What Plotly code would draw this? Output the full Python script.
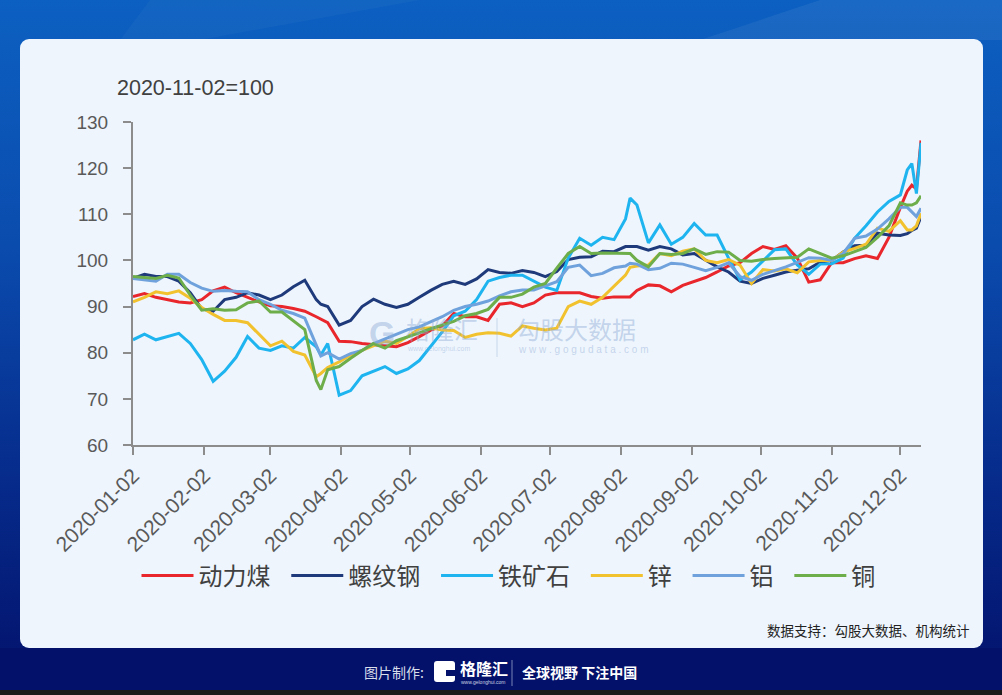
import base64
import plotly.graph_objects as go

dates = [
    "2020-01-02", "2020-01-07", "2020-01-12", "2020-01-17", "2020-01-22", "2020-01-27",
    "2020-02-01", "2020-02-06", "2020-02-11", "2020-02-16", "2020-02-21", "2020-02-26",
    "2020-03-02", "2020-03-07", "2020-03-12", "2020-03-17", "2020-03-22", "2020-03-24",
    "2020-03-27", "2020-04-01", "2020-04-06", "2020-04-11", "2020-04-16", "2020-04-21",
    "2020-04-26", "2020-05-01", "2020-05-06", "2020-05-11", "2020-05-16", "2020-05-21",
    "2020-05-26", "2020-05-31", "2020-06-05", "2020-06-10", "2020-06-15", "2020-06-20",
    "2020-06-25", "2020-06-30", "2020-07-05", "2020-07-10", "2020-07-15", "2020-07-20",
    "2020-07-25", "2020-07-30", "2020-08-04", "2020-08-06", "2020-08-09", "2020-08-14",
    "2020-08-19", "2020-08-24", "2020-08-29", "2020-09-03", "2020-09-08", "2020-09-13",
    "2020-09-18", "2020-09-23", "2020-09-28", "2020-10-03", "2020-10-08", "2020-10-13",
    "2020-10-18", "2020-10-23", "2020-10-28", "2020-11-02", "2020-11-07", "2020-11-12",
    "2020-11-17", "2020-11-22", "2020-11-27", "2020-12-02", "2020-12-05", "2020-12-07",
    "2020-12-09", "2020-12-11",
]

thermal_coal = [
    92.2, 92.8, 92.0, 91.5, 91.0, 90.8, 91.5, 93.4, 94.2, 93.0, 92.0, 91.0,
    90.2, 90.0, 89.6, 89.0, 87.8, 87.3, 86.5, 82.5, 82.4, 82.0, 81.7, 81.5,
    81.3, 82.2, 83.5, 84.9, 85.8, 88.5, 87.8, 87.8, 87.0, 90.5, 90.8, 90.0,
    90.8, 92.5, 93.0, 93.0, 93.0, 92.2, 91.8, 92.1, 92.1, 92.1, 93.5, 94.7,
    94.5, 93.2, 94.6, 95.4, 96.3, 97.5, 98.8, 99.5, 101.5, 103.0, 102.4, 103.2,
    100.5, 95.3, 95.8, 99.5, 99.5, 100.4, 101.0, 100.4, 105.0, 111.5, 115.0, 116.3,
    115.5, 126.0,
]
rebar = [
    96.1, 97.0, 96.5, 96.5, 95.5, 93.0, 89.5, 89.0, 91.5, 92.0, 93.0, 92.5,
    91.5, 92.5, 94.3, 95.7, 91.5, 90.5, 90.0, 86.0, 87.0, 90.0, 91.6, 90.5,
    89.8, 90.5, 92.0, 93.5, 94.8, 95.5, 94.8, 96.0, 98.0, 97.4, 97.2, 97.8,
    97.4, 96.5, 97.6, 100.2, 100.7, 100.8, 102.0, 101.9, 103.0, 103.0, 103.0, 102.2,
    103.0, 102.5, 101.2, 101.5, 100.0, 98.6, 97.5, 95.5, 95.0, 96.1, 96.8, 97.5,
    97.9, 98.2, 99.6, 100.0, 101.8, 103.2, 103.3, 105.9, 105.5, 105.4, 105.8, 106.5,
    107.0, 109.5,
]
iron_ore = [
    82.8, 84.0, 82.8, 83.5, 84.2, 82.0, 78.5, 73.8, 76.0, 79.0, 83.5, 81.0,
    80.5, 81.5, 81.0, 83.3, 81.3, 79.5, 82.0, 70.8, 71.8, 75.0, 76.0, 77.0,
    75.5, 76.5, 78.3, 81.5, 84.5, 88.0, 89.0, 91.5, 95.5, 96.3, 96.8, 96.8,
    95.5, 94.2, 93.5, 100.5, 104.8, 103.3, 105.0, 104.5, 109.0, 113.5, 112.0, 103.8,
    107.7, 103.5, 105.0, 108.0, 105.5, 105.5, 100.5, 95.8, 97.5, 100.0, 102.3, 102.5,
    99.0, 97.0, 99.2, 99.3, 100.5, 104.8, 107.5, 110.5, 112.8, 114.2, 119.6, 121.0,
    114.5, 125.5,
]
zinc = [
    91.0, 92.0, 93.2, 92.8, 93.4, 91.8, 89.8, 88.3, 87.0, 87.0, 86.5, 84.0,
    81.5, 82.5, 80.3, 79.5, 74.8, 75.5, 76.8, 78.0, 79.5, 80.5, 81.5, 82.5,
    82.0, 83.5, 85.2, 85.4, 84.9, 84.8, 83.3, 84.0, 84.3, 84.2, 83.6, 85.8,
    85.3, 84.9, 85.3, 90.0, 91.2, 90.5, 92.0, 94.5, 96.8, 98.5, 98.8, 99.0,
    101.5, 101.0, 102.0, 102.5, 100.0, 99.5, 100.2, 99.0, 95.0, 98.0, 97.7, 98.2,
    97.3, 99.7, 100.0, 100.0, 101.8, 102.6, 103.5, 107.0, 106.3, 108.6, 106.6, 106.6,
    107.5, 110.2,
]
aluminium = [
    96.1, 95.8, 95.5, 97.0, 97.0, 95.2, 94.0, 93.3, 93.5, 93.3, 93.2, 91.5,
    90.5, 89.2, 88.5, 87.5, 81.5, 79.3, 80.0, 78.6, 79.8, 80.5, 82.0, 83.0,
    84.0, 85.0, 85.6, 86.7, 87.8, 89.2, 90.0, 90.5, 91.2, 92.3, 93.2, 93.6,
    93.6, 94.5, 95.4, 98.5, 99.0, 96.7, 97.2, 98.4, 98.8, 99.4, 99.2, 98.0,
    98.3, 99.4, 99.2, 98.5, 97.8, 98.5, 99.5, 96.5, 95.7, 97.0, 97.8, 98.6,
    99.6, 100.6, 100.5, 100.0, 101.5, 104.8, 105.3, 106.8, 109.0, 111.5, 111.5, 110.5,
    109.5, 111.3,
]
copper = [
    96.5, 96.3, 96.1, 96.8, 96.2, 92.5, 89.2, 89.5, 89.2, 89.3, 90.8, 91.2,
    88.8, 88.8, 86.8, 85.0, 74.0, 72.0, 76.3, 77.0, 78.8, 80.5, 82.0, 81.0,
    82.6, 83.4, 84.3, 85.2, 86.0, 86.8, 88.0, 88.5, 89.4, 92.0, 92.0, 92.7,
    94.2, 95.0, 98.3, 101.5, 103.0, 101.5, 101.6, 101.5, 101.5, 101.5, 100.0, 98.6,
    101.5, 101.3, 101.5, 102.5, 101.3, 101.9, 101.8, 100.0, 99.8, 100.2, 100.4, 100.5,
    100.7, 102.5, 101.5, 100.5, 101.0, 101.9, 102.8, 105.0, 107.5, 112.5, 112.0, 112.0,
    112.5, 114.0,
]

series_names = ["动力煤", "螺纹钢", "铁矿石", "锌", "铝", "铜"]
series_values = [thermal_coal, rebar, iron_ore, zinc, aluminium, copper]
series_colors = ["#E8262B", "#1F3A7A", "#1DB4F0", "#F2C12E", "#6FA2DC", "#6DAD4A"]

tick_vals = ["2020-01-02", "2020-02-02", "2020-03-02", "2020-04-02", "2020-05-02", "2020-06-02",
             "2020-07-02", "2020-08-02", "2020-09-02", "2020-10-02", "2020-11-02", "2020-12-02"]

W, H = 1002, 695
L, R, T, B = 133, 81, 122, 250
PW, PH = W - L - R, H - T - B

def px_x(x):
    return (x - L) / PW

def px_y(y):
    return (H - B - y) / PH

svg = f'''<svg xmlns="http://www.w3.org/2000/svg" width="{W}" height="{H}" viewBox="0 0 {W} {H}" preserveAspectRatio="none">
<defs><linearGradient id="g" x1="0" y1="0" x2="0" y2="1">
<stop offset="0" stop-color="#0C60C1"/><stop offset="0.35" stop-color="#0A4CAE"/>
<stop offset="0.7" stop-color="#062A8A"/><stop offset="1" stop-color="#03116A"/></linearGradient></defs>
<rect width="{W}" height="{H}" fill="url(#g)"/>
<polygon points="150,0 420,0 200,40 120,40" fill="#ffffff" fill-opacity="0.03"/>
<polygon points="820,0 1002,0 1002,40 700,40" fill="#ffffff" fill-opacity="0.06"/>
<rect x="0" y="648" width="{W}" height="47" fill="#03116A"/>
<rect x="0" y="690" width="{W}" height="5" fill="#1a1a1a"/>
<rect x="20" y="39" width="963" height="609" rx="9" ry="9" fill="#EEF5FC"/>
<rect x="434" y="661" width="21" height="21" rx="3" ry="3" fill="#FFFFFF"/>
<rect x="446" y="670" width="9" height="6" fill="#03116A"/>
</svg>'''
src = "data:image/svg+xml;base64," + base64.b64encode(svg.encode()).decode()

NB = "\u00a0"
fig = go.Figure()
for name, vals, col in zip(series_names, series_values, series_colors):
    fig.add_trace(go.Scatter(x=dates, y=vals, name=name + NB + NB, mode="lines",
                             line=dict(color=col, width=3)))

fig.add_layout_image(dict(source=src, xref="paper", yref="paper",
                          x=px_x(0), y=px_y(0), sizex=W / PW, sizey=H / PH,
                          xanchor="left", yanchor="top", sizing="stretch", layer="below"))

cjk = "Noto Sans CJK SC"
ann = []

def add_text(text, x, y, xanchor, size, color, family=cjk):
    ann.append(dict(text=text, x=px_x(x), y=px_y(y), xref="paper", yref="paper", showarrow=False,
                    xanchor=xanchor, yanchor="middle", font=dict(family=family, size=size, color=color)))

add_text("2020-11-02=100", 115, 88, "left", 21.5, "#404040", "Liberation Sans, Arial")
# watermark
wmc = "rgba(140,170,215,0.45)"
add_text("<b>G</b>", 382, 333, "center", 34, wmc, "Liberation Sans")
add_text("格隆汇", 404, 328, "left", 24, wmc)
add_text("www.gelonghui.com", 405, 349, "left", 7, wmc, "Liberation Sans")
add_text("勾股大数据", 514, 328, "left", 24, wmc)
add_text("w w w . g o g u d a t a . c o m", 516, 349, "left", 10, wmc, "Liberation Sans")
# source
add_text("数据支持：勾股大数据、机构统计", 972, 630, "right", 13.5, "#222222")
# footer
add_text("图片制作:", 362, 672, "left", 14, "#D8DEEA")
add_text("<b>格隆汇</b>", 458, 668, "left", 16, "#FFFFFF")
add_text("www.gelonghui.com", 459, 682, "left", 5, "#C8D0E0", "Liberation Sans")
add_text("<b>全球视野 下注中国</b>", 520, 672, "left", 14, "#FFFFFF")

shapes = [
    dict(type="line", xref="paper", yref="paper", x0=px_x(497), x1=px_x(497), y0=px_y(318), y1=px_y(357),
         line=dict(color="rgba(150,180,220,0.45)", width=1)),
    dict(type="line", xref="paper", yref="paper", x0=px_x(512), x1=px_x(512), y0=px_y(660), y1=px_y(686),
         line=dict(color="rgba(200,210,230,0.6)", width=1)),
]

fig.update_layout(
    width=W, height=H,
    margin=dict(l=L, r=R, t=T, b=B, pad=0),
    paper_bgcolor="#0A3FA0",
    plot_bgcolor="rgba(0,0,0,0)",
    showlegend=True,
    legend=dict(orientation="h", x=px_x(514), xanchor="center", y=px_y(576), yanchor="middle",
                font=dict(family=cjk, size=24, color="#404040"), bgcolor="rgba(0,0,0,0)",
                itemwidth=52, tracegroupgap=0),
    annotations=ann,
    shapes=shapes,
    xaxis=dict(type="date", range=["2020-01-02", "2020-12-11"], tickvals=tick_vals, ticktext=tick_vals,
               tickangle=-45, showgrid=False, zeroline=False, showline=True, linecolor="#8C8C8C", linewidth=2,
               ticks="outside", ticklen=8, tickwidth=1.5, tickcolor="#8C8C8C",
               tickfont=dict(family="Liberation Sans, Arial", size=21, color="#595959")),
    yaxis=dict(range=[60, 130], dtick=10, tick0=60, showgrid=False, zeroline=False, showline=True,
               linecolor="#8C8C8C", linewidth=2, ticks="outside", ticklen=8, tickwidth=1.5, tickcolor="#8C8C8C",
               ticklabelstandoff=11,
               tickfont=dict(family="Liberation Sans, Arial", size=19, color="#595959")),
)

fig.write_html("out.html", config={"displayModeBar": False},
               post_script="document.body.style.margin='0px';document.body.style.overflow='hidden';")
